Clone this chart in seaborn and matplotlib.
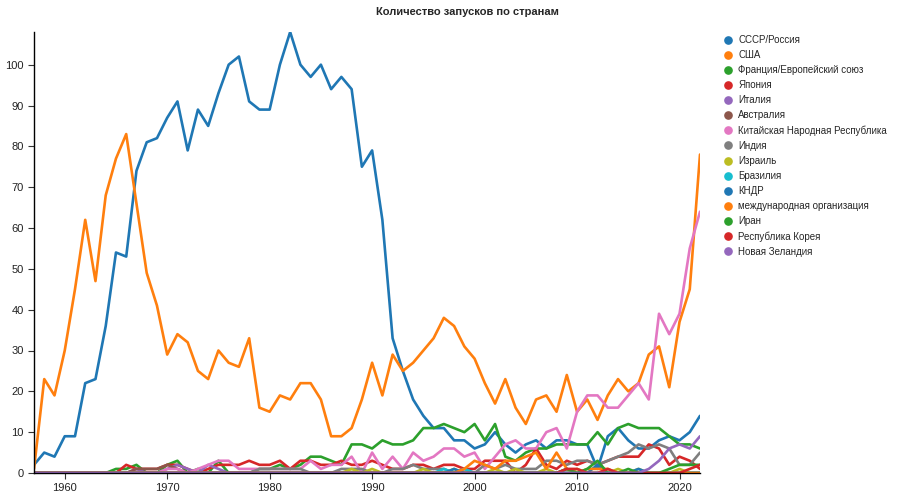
import numpy as np
import pandas as pd
import matplotlib
matplotlib.use("Agg")
import matplotlib.pyplot as plt
from matplotlib.lines import Line2D
import seaborn as sns

years = list(range(1957, 2023))

# launches per year, 1957..2022
ussr = [2, 5, 4, 9, 9, 22, 23, 36, 54, 53, 74, 81, 82, 87, 91, 79, 89, 85, 93, 100,
        102, 91, 89, 89, 100, 108, 100, 97, 100, 94, 97, 94, 75, 79, 62, 33, 25, 18, 14, 11,
        11, 8, 8, 6, 7, 10, 7, 5, 7, 8, 6, 8, 8, 7, 7, 1, 9, 11, 8, 6,
        6, 8, 9, 8, 10, 14]
usa = [1, 23, 19, 30, 45, 62, 47, 68, 77, 83, 66, 49, 41, 29, 34, 32, 25, 23, 30, 27,
       26, 33, 16, 15, 19, 18, 22, 22, 18, 9, 9, 11, 18, 27, 19, 29, 25, 27, 30, 33,
       38, 36, 31, 28, 22, 17, 23, 16, 12, 18, 19, 15, 24, 15, 18, 13, 19, 23, 20, 22,
       29, 31, 21, 37, 45, 78]
france_eu = [0, 0, 0, 0, 0, 0, 0, 0, 1, 1, 2, 0, 0, 2, 3, 0, 1, 0, 3, 0,
             0, 0, 1, 1, 2, 1, 2, 4, 4, 3, 2, 7, 7, 6, 8, 7, 7, 8, 11, 11,
             12, 11, 10, 12, 8, 12, 4, 3, 5, 6, 6, 7, 7, 7, 7, 10, 7, 11, 12, 11,
             11, 11, 9, 7, 7, 6]
japan = [0, 0, 0, 0, 0, 0, 0, 0, 0, 2, 1, 1, 1, 2, 2, 1, 0, 1, 2, 2,
         2, 3, 2, 2, 3, 1, 3, 3, 2, 2, 3, 2, 2, 3, 2, 1, 1, 2, 2, 1,
         2, 2, 1, 1, 3, 3, 3, 0, 2, 6, 2, 1, 3, 2, 3, 2, 3, 4, 4, 4,
         7, 6, 2, 4, 3, 1]
italy = [0, 0, 0, 0, 0, 0, 0, 0, 0, 0, 1, 0, 0, 1, 2, 1, 0, 2, 1, 0,
         0, 0, 0, 0, 0, 0, 0, 0, 0, 0, 0, 0, 0, 0, 0, 0, 0, 0, 0, 0,
         0, 0, 0, 0, 0, 0, 0, 0, 0, 0, 0, 0, 0, 0, 0, 0, 0, 0, 0, 0,
         0, 0, 0, 0, 0, 0]
australia = [0, 0, 0, 0, 0, 0, 0, 0, 0, 0, 1, 1, 1, 2, 1, 0, 0, 0, 0, 0,
             0, 0, 0, 0, 0, 0, 0, 0, 0, 0, 0, 0, 0, 0, 0, 0, 0, 0, 0, 0,
             0, 0, 0, 0, 0, 0, 0, 0, 0, 0, 0, 0, 0, 0, 0, 0, 0, 0, 0, 0,
             0, 0, 0, 0, 0, 0]
china = [0, 0, 0, 0, 0, 0, 0, 0, 0, 0, 0, 0, 0, 1, 1, 0, 1, 2, 3, 3,
         1, 1, 1, 1, 1, 1, 1, 3, 1, 2, 2, 4, 0, 5, 1, 4, 1, 5, 3, 4,
         6, 6, 4, 5, 1, 4, 7, 8, 6, 6, 10, 11, 6, 15, 19, 19, 16, 16, 19, 22,
         18, 39, 34, 39, 55, 64]
india = [0, 0, 0, 0, 0, 0, 0, 0, 0, 0, 0, 0, 0, 0, 0, 0, 0, 0, 0, 0,
         0, 0, 1, 1, 1, 1, 1, 0, 0, 0, 1, 1, 1, 0, 0, 1, 1, 2, 1, 1,
         1, 0, 1, 0, 2, 1, 2, 1, 1, 1, 3, 3, 2, 3, 3, 2, 3, 4, 5, 7,
         6, 7, 6, 2, 2, 5]
israel = [0, 0, 0, 0, 0, 0, 0, 0, 0, 0, 0, 0, 0, 0, 0, 0, 0, 0, 0, 0,
          0, 0, 0, 0, 0, 0, 0, 0, 0, 0, 0, 1, 0, 1, 0, 0, 0, 0, 1, 0,
          0, 1, 0, 0, 0, 1, 0, 1, 0, 0, 1, 0, 0, 1, 0, 0, 0, 1, 0, 1,
          0, 0, 0, 1, 0, 0]
brazil = [0, 0, 0, 0, 0, 0, 0, 0, 0, 0, 0, 0, 0, 0, 0, 0, 0, 0, 0, 0,
          0, 0, 0, 0, 0, 0, 0, 0, 0, 0, 0, 0, 0, 0, 0, 0, 0, 0, 0, 0,
          1, 0, 1, 0, 0, 0, 0, 0, 0, 0, 0, 0, 0, 0, 0, 0, 0, 0, 0, 0,
          0, 0, 0, 0, 0, 0]
dprk = [0, 0, 0, 0, 0, 0, 0, 0, 0, 0, 0, 0, 0, 0, 0, 0, 0, 0, 0, 0,
        0, 0, 0, 0, 0, 0, 0, 0, 0, 0, 0, 0, 0, 0, 0, 0, 0, 0, 0, 0,
        0, 1, 0, 0, 0, 0, 0, 0, 0, 0, 0, 0, 1, 0, 0, 2, 0, 0, 0, 1,
        0, 0, 0, 0, 0, 0]
intl = [0, 0, 0, 0, 0, 0, 0, 0, 0, 0, 0, 0, 0, 0, 0, 0, 0, 0, 0, 0,
        0, 0, 0, 0, 0, 0, 0, 0, 0, 0, 0, 0, 0, 0, 0, 0, 0, 0, 0, 0,
        0, 0, 1, 3, 2, 1, 3, 3, 4, 5, 1, 5, 1, 0, 1, 1, 1, 0, 0, 0,
        0, 0, 0, 0, 0, 0]
iran = [0, 0, 0, 0, 0, 0, 0, 0, 0, 0, 0, 0, 0, 0, 0, 0, 0, 0, 0, 0,
        0, 0, 0, 0, 0, 0, 0, 0, 0, 0, 0, 0, 0, 0, 0, 0, 0, 0, 0, 0,
        0, 0, 0, 0, 0, 0, 0, 0, 0, 0, 0, 0, 1, 0, 1, 3, 0, 0, 1, 0,
        0, 0, 1, 2, 2, 2]
korea = [0, 0, 0, 0, 0, 0, 0, 0, 0, 0, 0, 0, 0, 0, 0, 0, 0, 0, 0, 0,
         0, 0, 0, 0, 0, 0, 0, 0, 0, 0, 0, 0, 0, 0, 0, 0, 0, 0, 0, 0,
         0, 0, 0, 0, 0, 0, 0, 0, 0, 0, 0, 0, 1, 1, 0, 0, 1, 0, 0, 0,
         0, 0, 0, 0, 1, 2]
new_zealand = [0, 0, 0, 0, 0, 0, 0, 0, 0, 0, 0, 0, 0, 0, 0, 0, 0, 0, 0, 0,
               0, 0, 0, 0, 0, 0, 0, 0, 0, 0, 0, 0, 0, 0, 0, 0, 0, 0, 0, 0,
               0, 0, 0, 0, 0, 0, 0, 0, 0, 0, 0, 0, 0, 0, 0, 0, 0, 0, 0, 0,
               1, 3, 6, 7, 6, 9]

countries = ["СССР/Россия", "США", "Франция/Европейский союз", "Япония", "Италия",
             "Австралия", "Китайская Народная Республика", "Индия", "Израиль",
             "Бразилия", "КНДР", "международная организация", "Иран",
             "Республика Корея", "Новая Зеландия"]
series = [ussr, usa, france_eu, japan, italy, australia, china, india, israel,
          brazil, dprk, intl, iran, korea, new_zealand]

df = pd.concat([pd.DataFrame({"year": years, "launches": s, "country": c})
                for c, s in zip(countries, series)], ignore_index=True)

palette = sns.color_palette("tab10", len(countries))

sns.set_style("white")
plt.rcParams["font.family"] = ["Liberation Sans", "DejaVu Sans"]

fig = plt.figure(figsize=(9, 5), dpi=100)
ax = fig.add_axes([34 / 900, 27 / 500, 666 / 900, 441 / 500])

sns.lineplot(data=df, x="year", y="launches", hue="country", hue_order=countries,
             palette=palette, linewidth=1.9, legend=False, ax=ax)

ax.set_xlim(1957, 2022)
ax.set_ylim(0, 108)
ax.set_xticks(range(1960, 2021, 10))
ax.set_yticks(range(0, 101, 10))
ax.set_xlabel("")
ax.set_ylabel("")
for side in ["top", "right"]:
    ax.spines[side].set_visible(False)
for side in ["left", "bottom"]:
    ax.spines[side].set_color("black")
    ax.spines[side].set_linewidth(1.0)
ax.tick_params(axis="both", length=4, width=0.8, color="#333333",
               labelsize=8, labelcolor="#222222", bottom=True, left=True)

fig.text(467 / 900, 1 - 12 / 500, "Количество запусков по странам",
         ha="center", va="center", fontsize=8, fontweight="bold")

handles = [Line2D([], [], marker="o", linestyle="", markersize=5.2, color=palette[i])
           for i in range(len(countries))]
fig.legend(handles, countries, loc="upper left", bbox_to_anchor=(723 / 900, 1 - 35 / 500),
           frameon=False, fontsize=7, labelspacing=0.52, handletextpad=0.55,
           handlelength=1.0, borderpad=0, borderaxespad=0)

fig.savefig("out.png", dpi=100)
